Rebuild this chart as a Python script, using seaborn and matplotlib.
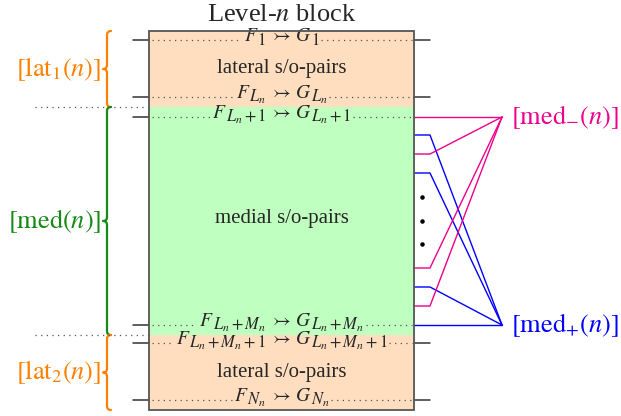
"""Level-n block diagram: lateral and medial s/o-pairs."""

import matplotlib
matplotlib.use("Agg")
import matplotlib.pyplot as plt
from matplotlib.path import Path
from matplotlib.patches import PathPatch, Rectangle
import seaborn as sns

sns.set_theme(style="white")
plt.rcParams.update({
    "font.family": ["Liberation Serif", "DejaVu Serif"],
    "mathtext.fontset": "stix",
})

# Colours
PEACH = "#FFDEC0"
MINT = "#BFFFBF"
ORANGE = "#FF8000"
GREEN = "#138A13"
MAGENTA = "#EC008C"
BLUE = "#0000FF"
EDGE = "#555555"

# Block layout (pixel space of the 621x416 picture)
box_left, box_right = 149, 414
region_tops = [31, 107, 335]
region_bottoms = [107, 335, 410]
region_colors = [PEACH, MINT, PEACH]
region_texts = ["lateral s/o-pairs", "medial s/o-pairs", "lateral s/o-pairs"]
region_text_y = [68, 218, 372]

brace_labels = [r"$[\mathrm{lat}_1(n)]$", r"$[\mathrm{med}(n)]$", r"$[\mathrm{lat}_2(n)]$"]
brace_colors = [ORANGE, GREEN, ORANGE]

# Listed pairs inside the block (index of F and G)
pair_subs = ["1", "L_n", "L_n+1", "L_n+M_n", "L_n+M_n+1", "N_n"]
pair_y = [40, 97, 117, 325, 343, 400]

# Medial outputs on the right side: sign -1 -> med_-, +1 -> med_+
link_y = [117, 135, 154, 173, 268, 287, 306, 325]
link_sign = [-1, 1, -1, 1, -1, 1, -1, 1]
ellipsis_y = [197, 221, 244]
target_x = 502
target_y = {-1: 117, 1: 325}
target_labels = {-1: r"$[\mathrm{med}_{-}(n)]$", 1: r"$[\mathrm{med}_{+}(n)]$"}
target_colors = {-1: MAGENTA, 1: BLUE}

DOTS = (0, (1, 3.5))


def draw_brace(ax, x, y0, y1, color, amp=4):
    """Left-pointing curly brace from y0 to y1 (y grows downward)."""
    ym = (y0 + y1) / 2
    verts = [
        (x + amp, y0), (x, y0), (x, y0 + amp),
        (x, ym - amp),
        (x, ym), (x - amp, ym),
        (x, ym), (x, ym + amp),
        (x, y1 - amp),
        (x, y1), (x + amp, y1),
    ]
    codes = [Path.MOVETO, Path.CURVE3, Path.CURVE3, Path.LINETO,
             Path.CURVE3, Path.CURVE3, Path.CURVE3, Path.CURVE3,
             Path.LINETO, Path.CURVE3, Path.CURVE3]
    ax.add_patch(PathPatch(Path(verts, codes), fill=False, edgecolor=color,
                           linewidth=1.6, capstyle="round", joinstyle="round"))
    return ym


def put_pair(ax, renderer, xc, y, sub, size=14):
    """Write F_sub >-> G_sub centred at xc, with large (tiny-font style) subscripts."""
    sub_size, drop = size * 0.85, 4
    pieces = [("$F$", size, 0, 0), (f"${sub}$", sub_size, drop, -1),
              (r"$\rightarrowtail$", size, 0, 4), ("$G$", size, 0, 4),
              (f"${sub}$", sub_size, drop, -1)]
    texts, widths = [], []
    for s, fs, dy, gap in pieces:
        t = ax.text(0, y + 1 + dy, s, fontsize=fs, ha="left", va="baseline", zorder=3)
        texts.append(t)
        widths.append(t.get_window_extent(renderer).width)
    total = sum(widths) + sum(p[3] for p in pieces)
    x = xc - total / 2
    for t, w, p in zip(texts, widths, pieces):
        x += p[3]
        t.set_x(x)
        x += w
    return xc - total / 2, xc + total / 2


fig = plt.figure(figsize=(6.21, 4.16), dpi=100)
ax = fig.add_axes([0, 0, 1, 1])
ax.set_xlim(0, 621)
ax.set_ylim(416, 0)
ax.axis("off")

# Regions
for top, bottom, color, text, ty in zip(region_tops, region_bottoms, region_colors,
                                        region_texts, region_text_y):
    ax.add_patch(Rectangle((box_left, top), box_right - box_left, bottom - top,
                           facecolor=color, edgecolor="none", zorder=1))
    ax.text((box_left + box_right) / 2, ty, text, ha="center", va="center",
            fontsize=15, zorder=4)
ax.add_patch(Rectangle((box_left, region_tops[0]), box_right - box_left,
                       region_bottoms[-1] - region_tops[0], facecolor="none",
                       edgecolor=EDGE, linewidth=1.3, zorder=5))
ax.text((box_left + box_right) / 2, 21, r"Level-$n$ block", ha="center",
        va="baseline", fontsize=19)

# Dotted separators left of the block
for yb in region_bottoms[:2]:
    ax.plot([35, box_left], [yb, yb], color=EDGE, lw=0.9, ls=DOTS, zorder=2)

# Braces with labels
for top, bottom, color, label in zip(region_tops, region_bottoms, brace_colors, brace_labels):
    ym = draw_brace(ax, 107, top, bottom, color)
    ax.text(101, ym, label, ha="right", va="center", fontsize=19, color=color)

# Pair rows: dotted guide split around the label
fig.canvas.draw()
renderer = fig.canvas.get_renderer()
for sub, y in zip(pair_subs, pair_y):
    x0, x1 = put_pair(ax, renderer, (box_left + box_right) / 2, y, sub)
    ax.plot([box_left + 3, x0 - 2], [y, y], color=EDGE, lw=0.9, ls=DOTS, zorder=2)
    ax.plot([x1 + 2, box_right - 2], [y, y], color=EDGE, lw=0.9, ls=DOTS, zorder=2)
    ax.plot([133, box_left], [y, y], color="#333333", lw=1.1, zorder=2)
    if y not in link_y:
        ax.plot([box_right, 430], [y, y], color="#333333", lw=1.1, zorder=2)

# Medial links to the two targets
for y, s in zip(link_y, link_sign):
    ax.plot([box_right, 430, target_x], [y, y, target_y[s]],
            color=target_colors[s], lw=1.0, zorder=2)
ax.scatter([422] * len(ellipsis_y), ellipsis_y, s=5, color="black", zorder=3)
for s in (-1, 1):
    ax.text(511, target_y[s], target_labels[s], ha="left", va="center",
            fontsize=19, color=target_colors[s])

fig.savefig("out.png", dpi=100)
plt.close(fig)
